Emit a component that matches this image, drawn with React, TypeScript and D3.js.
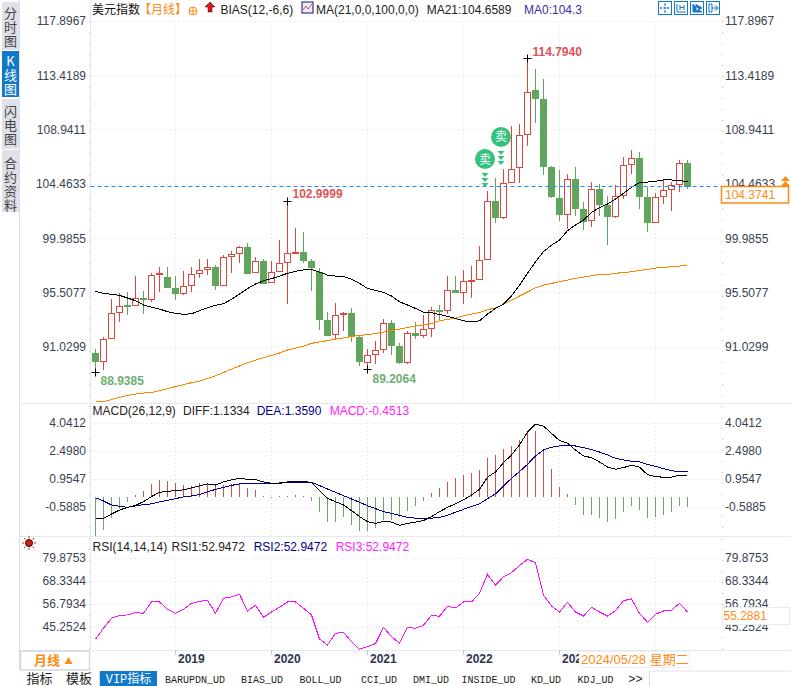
import * as d3 from "d3";

const opens = [90.51,89.82,91.75,93.89,94.47,94.44,95.05,94.97,97.0,96.78,95.87,95.46,96.09,97.11,97.44,97.63,96.09,98.49,98.76,99.28,97.17,98.13,96.37,97.28,98.02,98.79,98.87,98.13,97.22,93.26,92.08,93.73,93.84,91.86,89.77,90.43,90.84,93.01,91.11,89.76,92.16,91.99,92.57,94.06,94.03,95.7,95.54,96.49,96.61,98.26,103.07,101.73,104.61,105.8,108.57,112.17,111.48,105.88,103.32,101.97,104.89,102.41,101.48,104.06,102.74,101.78,103.54,106.1,106.62,103.4,101.31,103.46,104.04,104.45,106.21];
const closes = [89.82,91.67,93.81,94.39,94.39,95.05,94.97,96.95,97.06,95.93,95.43,96.04,97.03,97.36,97.6,96.09,98.43,98.68,99.23,97.14,98.07,96.31,97.19,97.94,98.76,98.84,98.15,97.6,93.29,92.02,93.65,93.81,91.94,89.82,90.35,90.76,92.99,91.14,89.74,92.16,91.99,92.49,94.03,94.0,95.7,95.51,96.42,96.56,98.18,103.05,101.7,104.53,105.69,108.46,112.03,111.51,105.9,103.43,101.95,104.86,102.44,101.4,104.04,102.77,101.78,103.46,106.02,106.6,103.43,101.29,103.38,103.91,104.37,106.18,104.31];
const highs = [90.84,91.89,94.99,95.46,95.57,96.89,95.65,97.11,97.63,97.63,96.89,97.3,97.66,98.26,98.29,97.8,98.62,98.95,99.37,99.59,98.49,98.26,98.13,99.86,102.9999,100.82,100.55,98.26,97.52,93.92,94.64,93.95,94.25,91.94,90.84,91.53,93.32,93.26,91.39,92.35,93.06,93.67,94.36,94.5,96.89,96.89,97.38,97.71,99.36,103.9,104.94,105.69,109.26,109.43,114.794,113.96,113.13,105.96,105.63,105.3,105.88,102.99,104.64,104.48,103.49,104.39,106.73,107.28,107.12,104.2,103.71,104.86,104.64,106.46,106.46];
const lows = [88.9385,89.14,91.75,93.12,93.67,94.44,93.76,94.77,95.6,95.93,94.91,95.32,95.6,96.7,96.97,95.74,96.09,97.11,97.99,97.06,97.11,96.23,96.34,97.28,94.58,98.76,97.94,95.65,92.44,91.94,91.67,92.38,91.47,89.49,89.2064,89.63,90.57,90.37,89.63,89.6,91.69,91.75,91.88,93.2,93.75,95.51,94.58,95.1,96.61,98.26,101.29,101.59,104.61,104.59,107.61,109.53,105.22,103.32,101.45,100.76,101.84,100.68,100.93,101.84,99.44,101.7,103.24,105.3,102.41,100.55,101.29,102.83,102.25,103.82,104.06];

const ma21 = [95.63,95.46,95.38,95.3,95.08,94.86,94.5,94.33,94.17,93.95,93.81,93.73,93.78,94.03,94.28,94.47,94.61,94.97,95.41,95.85,96.23,96.5,96.67,96.89,97.11,97.28,97.39,97.44,97.22,96.97,96.89,96.84,96.64,96.29,95.87,95.71,95.54,95.24,94.77,94.5,94.22,93.89,93.86,93.72,93.56,93.39,93.2,93.12,93.2,93.75,94.22,94.58,95.26,96.14,97.11,98.07,98.9,99.44,99.86,100.63,101.1,101.5,102.14,102.52,102.83,103.24,103.71,104.2,104.59,104.64,104.7,104.81,104.81,104.78,104.6589];
const ma0 = [86.52,86.52,86.71,86.88,87.05,87.16,87.24,87.29,87.43,87.6,87.76,87.93,88.09,88.23,88.45,88.67,88.94,89.22,89.47,89.74,89.96,90.15,90.35,90.54,90.79,90.95,91.11,91.34,91.45,91.56,91.69,91.78,91.91,92.0,92.05,92.16,92.27,92.38,92.52,92.65,92.76,92.87,92.98,93.2,93.31,93.42,93.61,93.75,93.89,94.11,94.27,94.55,94.88,95.24,95.57,95.92,96.14,96.28,96.42,96.56,96.7,96.8,96.91,97.02,97.02,97.11,97.19,97.24,97.35,97.44,97.55,97.6,97.66,97.71,97.8];

const macdHist = [-2.15,-1.84,-1.19,-0.68,-0.29,0.09,0.31,0.7,0.92,0.86,0.77,0.64,0.61,0.73,0.73,0.64,0.64,0.7,0.73,0.48,0.37,0.05,-0.05,0.05,0.06,0.1,0.06,-0.24,-0.85,-1.38,-1.41,-1.14,-1.56,-1.87,-1.89,-1.71,-1.29,-1.29,-1.1,-0.77,-0.51,-0.24,0.2,0.48,0.81,1.03,1.19,1.3,1.47,2.13,2.3,2.63,2.79,3.12,3.56,3.62,2.63,1.53,0.53,0.15,-0.46,-1.01,-1.01,-1.18,-1.4,-1.25,-0.85,-0.51,-0.74,-1.18,-1.12,-1.01,-0.85,-0.51,-0.57];
const diff = [-1.19,-1.19,-0.96,-0.74,-0.59,-0.48,-0.28,0,0.24,0.29,0.33,0.37,0.48,0.59,0.7,0.64,0.81,0.92,1.01,0.95,0.94,0.81,0.73,0.73,0.81,0.85,0.83,0.79,0.33,-0.09,-0.28,-0.46,-0.77,-1.1,-1.38,-1.47,-1.36,-1.4,-1.58,-1.47,-1.41,-1.32,-1.1,-0.83,-0.59,-0.4,-0.18,0.09,0.4,1.07,1.36,1.87,2.3,2.85,3.55,3.99,3.89,3.49,3.09,2.94,2.57,2.24,2.15,1.91,1.63,1.51,1.6,1.73,1.62,1.21,1.1,1.07,1.08,1.18,1.1334];
const dea = [-0.06,-0.24,-0.46,-0.53,-0.59,-0.51,-0.44,-0.4,-0.29,-0.2,-0.11,-0.02,0.04,0.11,0.26,0.4,0.51,0.62,0.7,0.73,0.73,0.75,0.75,0.75,0.77,0.79,0.79,0.79,0.61,0.42,0.24,0.05,-0.13,-0.31,-0.5,-0.66,-0.83,-0.92,-1.03,-1.14,-1.19,-1.21,-1.19,-1.14,-1.03,-0.86,-0.7,-0.55,-0.4,-0.11,0.15,0.59,1.01,1.38,1.78,2.24,2.57,2.72,2.79,2.81,2.79,2.7,2.59,2.46,2.3,2.11,2.02,1.95,1.91,1.78,1.67,1.54,1.43,1.38,1.359];
const rsi = [39.23,44.75,49.77,51.27,51.44,52.61,52.27,57.96,57.96,54.28,52.27,54.28,57.29,58.3,58.8,52.27,59.8,60.47,61.81,53.45,56.29,50.27,52.94,55.29,57.96,57.96,54.78,51.44,39.4,36.39,42.24,42.74,38.06,34.21,35.55,37.05,45.25,40.57,37.22,45.25,44.75,46.25,51.27,50.77,55.79,54.95,57.96,57.96,62.31,71.85,66.33,70.67,72.68,76.19,79.37,77.7,61.47,55.95,52.94,57.79,52.94,50.94,55.29,52.94,50.94,53.61,58.63,59.47,52.27,47.76,51.77,53.45,53.78,57.29,52.9472];

const priceTicks = [117.8967, 113.4189, 108.9411, 104.4633, 99.9855, 95.5077, 91.0299];
const macdTicks = [4.0412, 2.498, 0.9547, -0.5885];
const rsiTicks = [79.8753, 68.3344, 56.7934, 45.2524];
const yearTicks = [{ i: 10, label: "2019" }, { i: 22, label: "2020" }, { i: 34, label: "2021" }, { i: 46, label: "2022" }, { i: 58, label: "202" }, { i: 70, label: "" }];
const extremes = [
  { i: 24, price: 102.9999, text: "102.9999", color: "#e0525a", dx: 5, dy: -4 },
  { i: 54, price: 114.794, text: "114.7940", color: "#d8525a", dx: 5, dy: -3 },
  { i: 0, price: 88.9385, text: "88.9385", color: "#6fae72", dx: 5, dy: 12 },
  { i: 34, price: 89.2064, text: "89.2064", color: "#6fae72", dx: 5, dy: 13 },
];
const sellSignals = [{ i: 49, price: 106.54 }, { i: 51, price: 108.36 }];
const sideTabs = [
  { label: "分时图", start: 7, y0: 2, y1: 50, active: false },
  { label: "K线图", start: 55, y0: 51, y1: 97, active: true },
  { label: "闪电图", start: 105, y0: 99, y1: 149, active: false },
  { label: "合约资料", start: 157, y0: 150, y1: 212, active: false },
];
const bottomTabs = [
  { label: "指标", x0: 20, x1: 59 },
  { label: "模板", x0: 59, x1: 99 },
  { label: "VIP指标", x0: 100, x1: 157, active: true },
  { label: "BARUPDN_UD", x0: 157, x1: 233 },
  { label: "BIAS_UD", x0: 233, x1: 291 },
  { label: "BOLL_UD", x0: 291, x1: 350 },
  { label: "CCI_UD", x0: 350, x1: 408 },
  { label: "DMI_UD", x0: 408, x1: 454 },
  { label: "INSIDE_UD", x0: 454, x1: 523 },
  { label: "KD_UD", x0: 523, x1: 569 },
  { label: "KDJ_UD", x0: 569, x1: 622 },
  { label: ">>", x0: 622, x1: 649 },
];

const RED = "#d9473f";
const GREEN = "#5fa55c";
const ORANGE = "#ff8a14";
const NAVY = "#00008b";
const MAGENTA = "#ff22ff";
const FONT = "'Liberation Sans', Arial, sans-serif";
const CJK = "'Noto Sans CJK SC', sans-serif";
const AXIS_LEFT = 90.5;
const AXIS_RIGHT = 722.5;

const x = d3.scaleLinear().domain([0, 74]).range([95.5, 687.5]);
const priceY = d3.scaleLinear().domain([91.0299, 117.8967]).range([347.1, 21.3]);
const macdY = d3.scaleLinear().domain([-0.5885, 4.0412]).range([507.3, 423.3]);
const rsiY = d3.scaleLinear().domain([45.2524, 79.8753]).range([627.3, 558.3]);

// snap to the pixel grid, the original is drawn without anti-aliasing
const snap = (v: number) => Math.floor(v) + 0.5;

function path(values: number[], y: d3.ScaleLinear<number, number>) {
  return d3.line<number>().x((_, i) => x(i)).y((d) => y(d))(values) ?? "";
}

function Label(props: any) {
  return <text fontFamily={FONT} fontSize={12} fill="#222" {...props} />;
}

function TickLabels({ ticks, y }: { ticks: number[]; y: d3.ScaleLinear<number, number> }) {
  return (
    <>
      {ticks.map((t) => (
        <g key={t} fontFamily={FONT} fontSize={12} fill="#3a3f52">
          <line x1={AXIS_LEFT} x2={AXIS_RIGHT} y1={snap(y(t))} y2={snap(y(t))} stroke="#dedede" strokeDasharray="1 3" />
          <text x={86} y={y(t) + 4} textAnchor="end">{t.toFixed(4)}</text>
          <text x={725} y={y(t) + 4}>{t.toFixed(4)}</text>
        </g>
      ))}
    </>
  );
}

export default function App() {
  const last = closes[closes.length - 1];
  const panels = [[21, 403], [423, 536], [558, 650]];

  return (
    <svg width={791} height={686} style={{ position: "absolute", left: 0, top: 0, display: "block", background: "#fff" }}>
      {/* side tabs */}
      {sideTabs.map((t) => (
        <g key={t.y0}>
          <rect x={2} y={t.y0} width={17} height={t.y1 - t.y0} fill={t.active ? "#1278c8" : "#dfe1ea"} />
          <text
            x={10.5}
            y={t.start}
            fontFamily={CJK}
            fontSize={13}
            fill={t.active ? "#fff" : "#444"}
            style={{ writingMode: "vertical-rl", textOrientation: "upright", letterSpacing: 1 }}
          >
            {t.label}
          </text>
        </g>
      ))}
      <line x1={19.5} x2={19.5} y1={0} y2={670} stroke="#d9e2e8" />

      {/* frame */}
      <line x1={AXIS_LEFT} x2={AXIS_LEFT} y1={0} y2={650} stroke="#e3e9ee" />
      <line x1={89.5} x2={89.5} y1={21} y2={650} stroke="#c4c4c4" strokeDasharray="1 10" />
      <line x1={AXIS_RIGHT} x2={AXIS_RIGHT} y1={21} y2={650} stroke="#bdbdbd" strokeDasharray="1 10" />
      {[403, 536, 650].map((v) => (
        <line key={v} x1={20} x2={791} y1={v + 0.5} y2={v + 0.5} stroke="#e3ebee" />
      ))}

      {/* grids */}
      {yearTicks.map((t) =>
        panels.map(([a, b]) => (
          <line key={`${t.i}-${a}`} x1={x(t.i)} x2={x(t.i)} y1={a} y2={b} stroke="#dedede" strokeDasharray="1 3" />
        )),
      )}
      <TickLabels ticks={priceTicks} y={priceY} />
      <TickLabels ticks={macdTicks} y={macdY} />
      <TickLabels ticks={rsiTicks} y={rsiY} />

      {/* candles */}
      {opens.map((o, i) => {
        const c = closes[i];
        const up = c >= o;
        const top = snap(priceY(Math.max(o, c)));
        const bottom = snap(priceY(Math.min(o, c)));
        const color = up ? RED : GREEN;
        return (
          <g key={i}>
            <line x1={x(i)} x2={x(i)} y1={Math.round(priceY(highs[i]))} y2={Math.round(priceY(lows[i]))} stroke={color} />
            {up ? (
              <rect x={x(i) - 3} y={top} width={6} height={Math.max(bottom - top, 1)} fill="#fff" stroke={color} strokeWidth={1} />
            ) : (
              <rect x={x(i) - 3.5} y={top - 0.5} width={7} height={Math.max(bottom - top, 1) + 1} fill={color} />
            )}
          </g>
        );
      })}

      {/* moving averages */}
      <path d={path(ma0, priceY)} fill="none" stroke="#ff8500" strokeWidth={1} shapeRendering="crispEdges" />
      <path d={path(ma21, priceY)} fill="none" stroke="#000" strokeWidth={1} shapeRendering="crispEdges" />
      <line x1={AXIS_LEFT} x2={AXIS_RIGHT} y1={snap(priceY(last))} y2={snap(priceY(last))} stroke="#1a8cff" strokeDasharray="4 3" />

      {/* highs and lows */}
      {extremes.map((e) => {
        const px = x(e.i);
        const py = snap(priceY(e.price));
        return (
          <g key={e.text}>
            <path d={`M${px - 4},${py}H${px + 4}M${px},${py - 4}V${py + 4}`} stroke="#000" fill="none" />
            <text x={px + e.dx} y={py + e.dy} fontFamily={FONT} fontSize={12} fontWeight="bold" fill={e.color}>{e.text}</text>
          </g>
        );
      })}

      {/* sell signals */}
      {sellSignals.map((s) => {
        const sx = x(s.i) - 2.5;
        const sy = priceY(s.price);
        return (
          <g key={s.i}>
            <circle cx={sx} cy={sy} r={10} fill="#33c27c" />
            <text x={sx} y={sy + 4.5} textAnchor="middle" fontFamily={CJK} fontSize={12} fill="#fff">卖</text>
            {[14, 19, 24].map((d) => (
              <path key={d} d={`M${sx - 3.5},${sy + d}h7l-3.5,4z`} fill="#33c27c" />
            ))}
          </g>
        );
      })}

      {/* MACD */}
      {macdHist.map((v, i) => (
        <line key={i} x1={x(i)} x2={x(i)} y1={Math.round(macdY(0))} y2={Math.round(macdY(v))} stroke={v >= 0 ? "#c5524c" : "#6ea566"} />
      ))}
      <path d={path(dea, macdY)} fill="none" stroke={NAVY} strokeWidth={1} shapeRendering="crispEdges" />
      <path d={path(diff, macdY)} fill="none" stroke="#000" strokeWidth={1} shapeRendering="crispEdges" />

      {/* RSI */}
      <path d={path(rsi, rsiY)} fill="none" stroke="#ff11ff" strokeWidth={1} shapeRendering="crispEdges" />

      {/* legends */}
      <text x={92} y={13.5} fontFamily={CJK} fontSize={12} fill="#111">美元指数</text>
      <text x={139} y={13.5} fontFamily={CJK} fontSize={12} fill={ORANGE}>【月线】</text>
      <g stroke={ORANGE} fill="none">
        <circle cx={193} cy={11} r={4} />
        <path d="M189,11H197M193,7V15" />
      </g>
      <path d="M210,2l5,5h-3v5h-4v-5h-3z" fill="#e8101a" stroke="#111" strokeWidth={0.5} />
      <Label x={220.5} y={14}>BIAS(12,-6,6)</Label>
      <rect x={302} y={2} width={11} height={11} fill="#e8eefc" stroke="#101070" />
      <path d="M303,10l3,-4l2,3l4,-5" fill="none" stroke="#d02020" strokeWidth={0.8} />
      <Label x={316} y={14}>MA(21,0,0,100,0,0)</Label>
      <Label x={426.7} y={14}>MA21:104.6589</Label>
      <Label x={524} y={14} fill="#3a2fa0">MA0:104.3</Label>
      {[658, 674, 690, 706].map((v, i) => (
        <g key={v} fill="none" stroke="#1278c8">
          <rect x={v + 0.5} y={1.5} width={13} height={13} strokeWidth={1} />
          {i === 0 && <path d="M660,8H670M665,3.5V12.5" strokeDasharray="2 1.5" strokeWidth={1.5} />}
          {i === 1 && <path d="M677,4V12H686M680,5V10M684,5V10M680,7.5H684" />}
          {i === 2 && <path d="M693,4V12H702M696,4.5L702,8L696,11z" fill="#1278c8" />}
          {i === 3 && <path d="M709,4V12M709,4H712V12H709M712,8H718M715,5.5L718,8L715,10.5" />}
        </g>
      ))}

      <Label x={92.5} y={415}>MACD(26,12,9)</Label>
      <Label x={183} y={415}>DIFF:1.1334</Label>
      <Label x={256.7} y={415} fill={NAVY}>DEA:1.3590</Label>
      <Label x={329.7} y={415} fill={MAGENTA}>MACD:-0.4513</Label>

      <g stroke="#e01818" strokeWidth={1}>
        <path d="M29,536v2M29,548v2M22,543h2M34,543h2M24,538l1.5,1.5M34,538l-1.5,1.5M24,548l1.5,-1.5M34,548l-1.5,-1.5" />
      </g>
      <circle cx={29} cy={543} r={3.5} fill="#e01818" stroke="#111" />
      <Label x={92.5} y={551}>RSI(14,14,14)</Label>
      <Label x={171.5} y={551}>RSI1:52.9472</Label>
      <Label x={253.7} y={551} fill={NAVY}>RSI2:52.9472</Label>
      <Label x={335.7} y={551} fill={MAGENTA}>RSI3:52.9472</Label>

      {/* right value boxes */}
      <path d="M781,186l4.5,-5l4.5,5zM781,181l4.5,-5l4.5,5z" fill={ORANGE} />
      <rect x={721.5} y={186.5} width={67} height={16.5} fill="#fff" stroke={ORANGE} strokeWidth={1.5} />
      <Label x={725} y={199} fill={ORANGE}>104.3741</Label>
      <rect x={722.5} y={607.5} width={67} height={17} fill="#fff" stroke="#e6ecef" />
      <Label x={723.5} y={620} fill={ORANGE}>55.2881</Label>

      {/* time axis */}
      {yearTicks.map((t) => (
        <g key={t.i}>
          <line x1={x(t.i)} x2={x(t.i)} y1={650} y2={655} stroke="#c4ccd2" />
          <text x={x(t.i) + 2.5} y={662.5} fontFamily={FONT} fontSize={12} fontWeight="bold" fill="#2d3450">{t.label}</text>
        </g>
      ))}
      <rect x={20.5} y={651} width={69} height={19} fill="#fff" stroke="#cfd9e2" strokeWidth={1.5} />
      <text x={34} y={665} fontFamily={CJK} fontSize={13} fontWeight="bold" fill={ORANGE}>月线</text>
      <path d="M64.5,664l4,-7l4,7z" fill={ORANGE} />
      <rect x={579.5} y={651.5} width={110} height={16} fill="#fff" stroke="#eef1f3" />
      <text x={581} y={664} fontFamily={FONT} fontSize={13} fill={ORANGE}>2024/05/28 <tspan fontFamily={CJK} fontSize={13}>星期二</tspan></text>

      {/* bottom tabs */}
      <line x1={649} x2={791} y1={671} y2={671} stroke="#dfe5ea" />
      {bottomTabs.map((t) => {
        const cjk = /[\u4e00-\u9fff]/.test(t.label);
        return (
          <g key={t.label}>
            <rect x={t.x0} y={671} width={t.x1 - t.x0} height={15} fill={t.active ? "#1278c8" : "#fff"} />
            <line x1={t.x1 + 0.5} x2={t.x1 + 0.5} y1={671} y2={686} stroke="#d4dbe0" />
            <text
              x={(t.x0 + t.x1) / 2}
              y={682.5}
              textAnchor="middle"
              fontFamily={cjk ? `'Liberation Mono', ${CJK}` : "'Liberation Mono', monospace"}
              fontSize={cjk && !t.active ? 13 : t.active ? 12 : t.label === ">>" ? 12 : 10}
              fill={t.active ? "#fff" : "#222"}
            >
              {t.label}
            </text>
          </g>
        );
      })}
    </svg>
  );
}
